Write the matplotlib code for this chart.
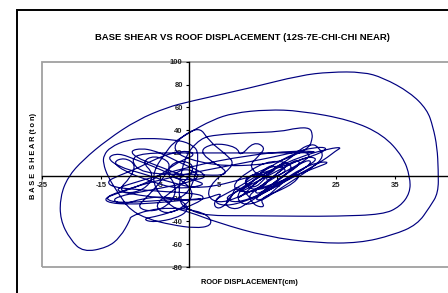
import matplotlib
matplotlib.use("Agg")
import matplotlib.pyplot as plt
from matplotlib.path import Path
from matplotlib.patches import PathPatch, Rectangle

# chart text
title = "BASE SHEAR VS ROOF DISPLACEMENT (12S-7E-CHI-CHI NEAR)"
xlabel = "ROOF DISPLACEMENT(cm)"
ylabel = "B A S E  S H E A R (t o n)"
xticks = [-25, -15, -5, 5, 15, 25, 35, 45]
xtick_labels = ["-25", "-15", "-5", "5", "15", "25", "35", ""]  # 45 lies outside the picture
yticks = [-80, -60, -40, -20, 0, 20, 40, 60, 80, 100]

# hysteresis path, in drawing order: (displacement cm, shear ton)
left_tangle = [(2, -20), (-2, -22), (-6, -24), (-10, -25), (-13.5, -24), (-14.5, -20), (-12, -15),
               (-8, -8), (-5, 0), (-3, 8), (-1, 14), (1, 18), (0, 22), (-3, 20), (-6, 14), (-9, 6),
               (-12, 0), (-14, -5), (-13, -10), (-9, -12), (-4, -14), (0, -15), (3, -18), (1, -25),
               (-2, -30), (-5, -35), (-8, -38), (-6, -41), (-2, -37), (0, -30), (-1, -22), (-4, -18),
               (-8, -20), (-11, -25), (-13, -22), (-12, -18), (-8, -14), (-4, -10), (0, -6), (2, 0),
               (0, 6), (-2, 4), (-3, -2), (0, -4), (3, -2), (2, 4), (-1, 10), (-4, 18), (-6, 22),
               (-8, 24), (-10, 22), (-9, 16), (-6, 10), (-2, 2), (1, -4), (3, -8)]
left_loops = [(-2, -12), (-7, -4), (-11, 4), (-13, 12), (-11, 16), (-9, 10), (-10, -2), (-12, -12),
              (-10, -16), (-7, -10), (-6, 2), (-8, 12), (-6, 18), (-3, 12), (-4, 0), (-7, -18),
              (-9, -28), (-6, -32), (-3, -24), (-2, -10), (-4, 4), (-2, 14), (1, 10), (0, -2),
              (-3, -14), (-6, -26), (-4, -34), (-1, -28), (1, -16), (-1, -4), (-5, 6), (-9, 14),
              (-12, 20), (-14, 16), (-12, 8), (-8, 2), (-3, -6), (2, -12)]
sweep_a = [(10, -2), (18, 12), (24, 23), (22, 26), (16, 18), (6, 8), (-4, -2), (-12, -14),
           (-14.5, -20), (-12, -24), (-6, -22), (0, -20), (2, 20)]
third_loop = [(0, 29), (-2.7, 31.6), (-7, 33), (-10.5, 31.6), (-13.4, 25), (-14.5, 18), (-14.6, 11),
              (-13.8, -1), (-11.7, -18), (-10, -30), (-7, -38), (-3, -43), (1, -46), (3.8, -44),
              (3.6, -36), (1, -30), (-3, -28), (-7, -30), (-10, -36)]
outer_loop = [(-10, -38.6), (-11.7, -54), (-13.9, -63), (-18, -67), (-20.2, -56), (-21.9, -38.6),
              (-21.9, -18.4), (-20.6, -1), (-18, 14), (-13.9, 31.6), (-8.8, 49), (-3.7, 60), (0, 65),
              (10.4, 77), (18.9, 88), (24, 91), (29.6, 91), (33, 86), (37.6, 73), (40.5, 58),
              (41.5, 43), (42.2, 25), (42.4, 5), (42.4, -15), (41, -27), (38.8, -43), (34.7, -52),
              (29, -59), (21.8, -59), (13.3, -53.5), (4.8, -41), (0, -31.6), (-3, -28)]
medium_loop = [(-6, -10), (-6, 5), (-4, 20), (-2.7, 29), (0, 37.7), (4, 49), (7.5, 55), (13.3, 58),
               (18.9, 57), (27.4, 49), (33, 36), (36.4, 16.7), (37.6, -1), (37.6, -15), (35.9, -27),
               (33, -34), (25, -35.5), (18.9, -35.5), (10, -35), (3, -35), (0, -30), (-2, -22)]
top_loop = [(-1, 15), (1.9, 33), (4.8, 36), (9.9, 37.7), (15.5, 38.6), (18.4, 42), (20.6, 42),
            (21, 36), (20.9, 31.6), (20.5, 25), (18, 18), (14, 10), (4, 8), (-4, 22), (1.5, 45),
            (3.5, 30), (6, 20)]
right_tangle = [(8, 10), (4, -5), (3, -18), (5, -24), (8, -20), (12, -10), (15, 0), (18, 8), (21, 18),
                (19, 22), (15, 12), (11, -2), (7, -14), (4, -22), (6, -27), (10, -22), (14, -12),
                (17, -2), (20, 8), (22, 15), (20, 17), (16, 7), (12, -4), (8, -14), (6, -20), (8, -24),
                (12, -17), (16, -6), (20, 5), (23, 14), (25, 22), (26, 25), (24, 24), (19, 17), (14, 5),
                (10, -7), (8, -17), (9, -26), (12, -23), (15, -13), (18, -3), (21, 7), (23, 17),
                (22, 25), (21, 28), (19, 24), (17, 14), (13, 2), (9, -10), (7, -18), (6, -26), (8, -30),
                (10, -24), (13, -14), (16, -4), (19, 6), (22, 12), (24, 12), (22, 8), (18, 0), (14, -8),
                (10, -14), (8, -20)]
dense_core = [(9, -18), (11, -8), (13, 0), (15, 6), (14, 10), (12, 2), (10, -10), (8, -14), (10, -12),
              (12, -4), (14, 4), (16, 12), (17, 10), (15, 2), (13, -6), (11, -14), (12, -16), (14, -8),
              (16, 0), (18, 6), (19, 12), (18, 14), (16, 6), (14, -2), (12, -10), (10, -18), (11, -20),
              (13, -12), (15, -4), (17, 4), (20, 14), (21, 12), (19, 4), (16, -4), (13, -12), (11, -22),
              (13, -20), (15, -10), (17, -2), (19, 2), (18, -6), (15, -14), (12, -20), (13, -28),
              (11, -26), (10, -16), (8, -8), (7, -22), (5, -30), (4, -24), (6, -14)]
sweep_b = [(2, -22), (-4, -20), (-10, -16), (-13, -12), (-8, -4), (0, 8), (10, 18), (18, 22),
           (22, 21), (20, 20), (10, 20), (0, 20), (-8, 20), (-10, 14), (-8, 2), (0, 1), (8, 0),
           (1.4, 20), (4, 29), (8.2, 25.4), (8.7, 16.7), (11, 30), (13, 25), (12, 18), (10, 8),
           (13, -4), (17, 4), (15, 10), (11, 2), (9, -8), (12, -14), (16, -2), (18, 10), (14, 14),
           (10, 4), (7, -10), (10, -16), (14, -6), (12, 4), (9, -4), (11, -12), (13, -2)]

pts = (left_tangle + left_loops + sweep_a + third_loop + outer_loop + medium_loop + top_loop
       + right_tangle + dense_core + sweep_b)

fig = plt.figure(figsize=(4.48, 2.93), dpi=100)
ax = fig.add_axes([42 / 448, 1 - 267 / 293, 411.6 / 448, 205.3 / 293])
ax.set_xlim(-25, 45)
ax.set_ylim(-80, 100)

# smooth the hand-read waypoints with quadratic curves
verts = [pts[0]]
codes = [Path.MOVETO]
for i in range(1, len(pts) - 1):
    mid = ((pts[i][0] + pts[i + 1][0]) / 2, (pts[i][1] + pts[i + 1][1]) / 2)
    verts += [pts[i], mid]
    codes += [Path.CURVE3, Path.CURVE3]
verts.append(pts[-1])
codes.append(Path.LINETO)
ax.add_patch(PathPatch(Path(verts, codes), fill=False, ec="#000080", lw=0.85, zorder=3))

# axes crossing at zero, grey plot-area frame
for s in ["top", "right"]:
    ax.spines[s].set_visible(False)
ax.spines["left"].set_position(("data", 0))
ax.spines["bottom"].set_position(("data", 0))
for s in ["left", "bottom"]:
    ax.spines[s].set_linewidth(1.0)
    ax.spines[s].set_zorder(4)
ax.add_patch(Rectangle((0, 0), 1, 1, transform=ax.transAxes, fill=False, ec="#a0a0a0",
                       lw=1.3, clip_on=False, zorder=1))

fam = ["Liberation Sans", "DejaVu Sans"]
ax.set_xticks(xticks)
ax.set_yticks(yticks)
ax.set_xticklabels(xtick_labels, fontsize=5.5, fontweight="bold", family=fam, color="#222222")
ax.set_yticklabels([str(v) for v in yticks], fontsize=5.5, fontweight="bold", family=fam, color="#222222")
ax.tick_params(direction="out", length=2.5, width=0.8, pad=2)

fig.text(242 / 448, 1 - 37 / 293, title, ha="center", va="center", fontsize=6.8,
         fontweight="bold", family=fam)
fig.text(249 / 448, 1 - 283 / 293, xlabel, ha="center", va="center", fontsize=5.3,
         fontweight="bold", family=fam)
fig.text(33 / 448, 1 - 156 / 293, ylabel, ha="center", va="center", fontsize=5.3,
         fontweight="bold", family=fam, rotation=90)

# chart-area border (cut off by the picture on the right and bottom)
fig.patches.append(Rectangle((17 / 448, -0.2), 1.2, 1.2 - 10 / 293, transform=fig.transFigure,
                             fill=False, ec="black", lw=1.4))

fig.savefig("out.png", dpi=100)
